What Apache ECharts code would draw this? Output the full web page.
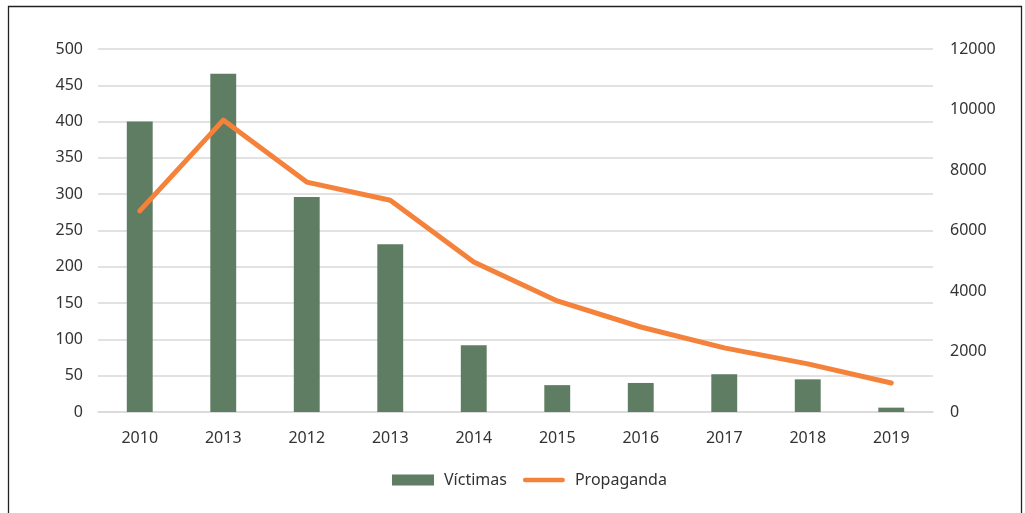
<!DOCTYPE html>
<html><head><meta charset="utf-8">
<script src="https://cdn.jsdelivr.net/npm/echarts@6/dist/echarts.min.js"></script>
<style>html,body{margin:0;padding:0;background:#fff}#c{width:1025px;height:513px}</style>
</head><body><div id="c"></div>
<script>
const categories = ['2010','2013','2012','2013 ','2014','2015','2016','2017','2018','2019'];
const victimas = [400, 466, 296, 231, 92, 37, 40, 52, 45, 6];
const propaganda = [6650, 9650, 7600, 7000, 4960, 3670, 2810, 2120, 1590, 960];
const leftTicks = {min: 0, max: 500, interval: 50};
const rightTicks = {min: 0, max: 12000, interval: 2000};

const chart = echarts.init(document.getElementById('c'));
const font = '"Noto Sans", "Open Sans", sans-serif';
chart.setOption({
  animation: false,
  textStyle: {fontFamily: font},
  graphic: [{type: 'rect', shape: {x: 8.5, y: 6.5, width: 1013, height: 530}, style: {fill: 'none', stroke: '#222', lineWidth: 1.3}}],
  grid: {left: 98, right: 92, top: 49, bottom: 101, containLabel: false},
  legend: {bottom: 20, left: 387, itemGap: 16, itemWidth: 42, itemHeight: 11,
    textStyle: {fontSize: 16, color: '#333', fontFamily: font, padding: [0, 0, 0, 5]},
    data: [
      {name: 'Víctimas', icon: 'rect'},
      {name: 'Propaganda', icon: 'path://M2.5,0 h40 a2.5,2.5 0 0 1 0,5 h-40 a2.5,2.5 0 0 1 0,-5z'}
    ]},
  xAxis: {type: 'category', data: categories,
    axisLine: {lineStyle: {color: '#d9d9d9', width: 1.5}}, axisTick: {show: false},
    axisLabel: {fontSize: 16, color: '#333', margin: 18, formatter: v => v.trim()}},
  yAxis: [
    {type: 'value', min: leftTicks.min, max: leftTicks.max, interval: leftTicks.interval,
     axisLabel: {fontSize: 16, color: '#333', margin: 15, formatter: v => String(v)},
     splitLine: {lineStyle: {color: '#d9d9d9', width: 1.5}}, axisLine: {show: false}},
    {type: 'value', min: rightTicks.min, max: rightTicks.max, interval: rightTicks.interval,
     axisLabel: {fontSize: 16, color: '#333', margin: 17, formatter: v => String(v)},
     splitLine: {show: false}, axisLine: {show: false}}
  ],
  series: [
    {name: 'Víctimas', type: 'bar', data: victimas, barWidth: '31%', itemStyle: {color: '#5e7d62'}},
    {name: 'Propaganda', type: 'line', yAxisIndex: 1, data: propaganda, symbol: 'none',
     lineStyle: {color: '#f5823a', width: 5, cap: 'round', join: 'round'}, itemStyle: {color: '#f5823a'}}
  ]
});
</script></body></html>
